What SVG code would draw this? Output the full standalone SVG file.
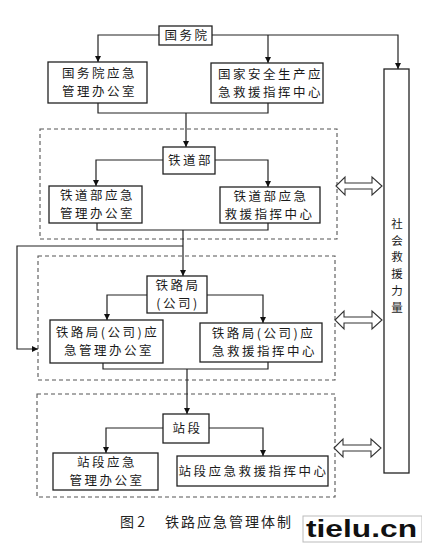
<svg xmlns="http://www.w3.org/2000/svg" width="422" height="544" viewBox="0 0 422 544">
<style>
.box{fill:#fff;stroke:#222;stroke-width:1.3}
.dash{fill:none;stroke:#555;stroke-width:1.1;stroke-dasharray:4 3}
.ln{fill:none;stroke:#222;stroke-width:1.2}
.t{font-family:"Noto Sans CJK SC","Liberation Sans",sans-serif;font-size:12.5px;letter-spacing:2.5px;fill:#1a1a1a;text-anchor:middle}
.v{font-family:"Noto Sans CJK SC","Liberation Sans",sans-serif;font-size:11.5px;fill:#1a1a1a;text-anchor:middle}
.dbl{fill:#fff;stroke:#333;stroke-width:1.1}
</style>
<defs>
<marker id="ah" viewBox="0 0 10 10" refX="10" refY="5" markerWidth="6" markerHeight="8" markerUnits="userSpaceOnUse" orient="auto">
<path d="M0,0 L10,5 L0,10 z" fill="#111"/>
</marker>
</defs>
<rect width="422" height="544" fill="#fff"/>
<g id="dashed-boxes">
<rect class="dash" x="40" y="129" width="297" height="110"/>
<rect class="dash" x="38" y="256" width="297" height="124"/>
<rect class="dash" x="37" y="394" width="298" height="103"/>
</g>
<g id="connectors">
<path class="ln" d="M159,35 H98 V62" marker-end="url(#ah)"/>
<path class="ln" d="M212,35 H398 V69" marker-end="url(#ah)"/>
<path class="ln" d="M268,35 V63" marker-end="url(#ah)"/>
<path class="ln" d="M98,103 V113 H268 V103"/>
<path class="ln" d="M186,113 V147" marker-end="url(#ah)"/>
<path class="ln" d="M163,160 H96 V186" marker-end="url(#ah)"/>
<path class="ln" d="M215,160 H268 V187" marker-end="url(#ah)"/>
<path class="ln" d="M97,223 V230 H268 V223"/>
<path class="ln" d="M183,230 V276" marker-end="url(#ah)"/>
<path class="ln" d="M183,246 H17 V349 H38" marker-end="url(#ah)"/>
<path class="ln" d="M147,295 H107 V320" marker-end="url(#ah)"/>
<path class="ln" d="M207,295 H263 V323" marker-end="url(#ah)"/>
<path class="ln" d="M103,363 V369 H268 V362"/>
<path class="ln" d="M187,369 V414" marker-end="url(#ah)"/>
<path class="ln" d="M163,428 H106 V453" marker-end="url(#ah)"/>
<path class="ln" d="M209,428 H263 V456" marker-end="url(#ah)"/>
<path class="dbl" d="M336,186 L345,177 L345,183 L372,183 L372,177 L382,186 L372,195 L372,189 L345,189 L345,195 z"/>
<path class="dbl" d="M335,320 L344,311 L344,317 L372,317 L372,311 L382,320 L372,329 L372,323 L344,323 L344,329 z"/>
<path class="dbl" d="M334,448 L343,439 L343,445 L371,445 L371,439 L381,448 L371,457 L371,451 L343,451 L343,457 z"/>
</g>
<g id="guowuyuan">
<rect class="box" x="159" y="26" width="53" height="19"/>
<text class="t" x="187" y="40">国务院</text>
</g>
<g id="guowuyuan-office">
<rect class="box" x="48" y="62" width="99" height="41"/>
<text class="t"><tspan x="99.5" y="78.2">国务院应急</tspan><tspan x="99.5" y="96.4">管理办公室</tspan></text>
</g>
<g id="national-center">
<rect class="box" x="211" y="63" width="112" height="40"/>
<text class="t"><tspan x="270.5" y="78.7">国家安全生产应</tspan><tspan x="270.5" y="96.9">急救援指挥中心</tspan></text>
</g>
<g id="social-rescue">
<rect class="box" x="384" y="69" width="25" height="404"/>
<text class="v"><tspan x="397" y="228">社</tspan><tspan x="397" y="244.7">会</tspan><tspan x="397" y="261.4">救</tspan><tspan x="397" y="278.1">援</tspan><tspan x="397" y="294.8">力</tspan><tspan x="397" y="311.5">量</tspan></text>
</g>
<g id="tiedaobu">
<rect class="box" x="163" y="147" width="52" height="27"/>
<text class="t" x="190.5" y="165">铁道部</text>
</g>
<g id="tiedaobu-office">
<rect class="box" x="49" y="186" width="93" height="37"/>
<text class="t"><tspan x="97.5" y="200.2">铁道部应急</tspan><tspan x="97.5" y="218.4">管理办公室</tspan></text>
</g>
<g id="tiedaobu-center">
<rect class="box" x="220" y="187" width="100" height="36"/>
<text class="t"><tspan x="271" y="200.7">铁道部应急</tspan><tspan x="269.5" y="218.9">救援指挥中心</tspan></text>
</g>
<g id="tieluju">
<rect class="box" x="147" y="276" width="60" height="37"/>
<text class="t"><tspan x="178" y="290.2">铁路局</tspan><tspan x="178" y="308.4">(公司)</tspan></text>
</g>
<g id="tieluju-office">
<rect class="box" x="50" y="320" width="113" height="43"/>
<text class="t"><tspan x="107.5" y="337.2">铁路局(公司)应</tspan><tspan x="109" y="355.4">急管理办公室</tspan></text>
</g>
<g id="tieluju-center">
<rect class="box" x="200" y="323" width="122" height="39"/>
<text class="t"><tspan x="263.5" y="338.2">铁路局(公司)应</tspan><tspan x="264.5" y="356.4">急救援指挥中心</tspan></text>
</g>
<g id="zhanduan">
<rect class="box" x="163" y="414" width="46" height="29"/>
<text class="t" x="187.5" y="433">站段</text>
</g>
<g id="zhanduan-office">
<rect class="box" x="53" y="453" width="105" height="37"/>
<text class="t"><tspan x="107" y="467.2">站段应急</tspan><tspan x="107" y="485.4">管理办公室</tspan></text>
</g>
<g id="zhanduan-center">
<rect class="box" x="177" y="456" width="151" height="30"/>
<text class="t" x="253.5" y="475.5">站段应急救援指挥中心</text>
</g>
<g id="caption">
<text x="120" y="527" style="font-family:'Noto Sans CJK SC','Liberation Serif',serif;font-size:14px;fill:#222">图 2</text>
<text x="165" y="527" style="font-family:'Noto Sans CJK SC','Liberation Serif',serif;font-size:14px;fill:#222;letter-spacing:2px">铁路应急管理体制</text>
<rect x="303" y="516" width="119" height="26" fill="#fff" stroke="#bbb" stroke-width="1"/>
<text x="306" y="537" textLength="111" lengthAdjust="spacingAndGlyphs" style="font-family:'Liberation Sans',Arial,sans-serif;font-size:24px;font-weight:bold;fill:#111">tielu.cn</text>
</g>
</svg>
